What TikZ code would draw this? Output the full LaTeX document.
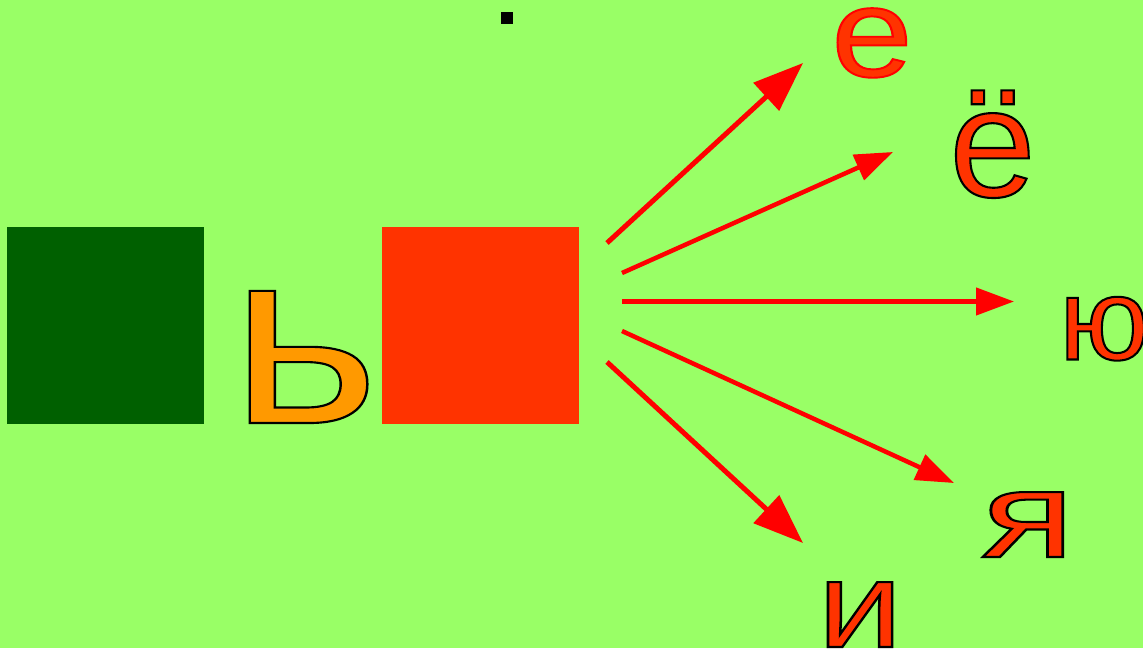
\documentclass[tikz,border=0pt]{standalone}
\usepackage{fontspec}
\setmainfont{Liberation Sans}
\usetikzlibrary{arrows.meta}
\definecolor{bg}{HTML}{99FF66}
\definecolor{dgreen}{HTML}{006000}
\definecolor{ored}{HTML}{FF3300}
\definecolor{orng}{HTML}{FF9900}
\definecolor{arred}{HTML}{FF0000}
% #1 xscale, #2 size, #3 fill colour, #4 stroke RGB, #5 embolden, #6 letter
\newcommand{\olet}[6]{\scalebox{#1}[1]{\fontspec{Liberation Sans}[FakeBold=#5]\fontsize{#2}{#2}\selectfont\color{#3}\special{pdf:code #4 RG}#6}}
\tikzset{
  letter/.style={inner sep=0pt, outer sep=0pt, anchor=base},
  sq/.style={minimum size=197pt, inner sep=0pt, outer sep=0pt, draw=none},
  arrbig/.style={draw=arred, line width=5pt, -{Triangle[length=50pt,width=37pt]}},
  arrmid/.style={draw=arred, line width=4.5pt, -{Triangle[length=38pt,width=27pt]}}
}
\begin{document}
\begin{tikzpicture}[x=1pt,y=-1pt]
\fill[bg] (0,0) rectangle (1143,648);
\useasboundingbox (0,0) rectangle (1143,648);
\clip (0,0) rectangle (1143,648);
\node[sq, fill=dgreen] (g) at (105.5,325.5) {};
\node[sq, fill=ored] (r) at (480.5,325.5) {};
\node[inner sep=0pt, minimum size=12pt, fill=black] (dot) at (507,18) {};
\node[letter] (soft) at (304.5,423) {\olet{1.145}{250}{orng}{0 0 0}{0.85}{ь}};
\node[letter] (e) at (872,76.5) {\olet{1.15}{127}{ored}{1 0 0}{1.5}{е}};
\node[letter] (yo) at (992.5,196.5) {\olet{1}{155}{ored}{0 0 0}{1.35}{ё}};
\node[letter, anchor=base west] (yu) at (1059,359.5) {\olet{1.03}{116.5}{ored}{0 0 0}{1.75}{ю}};
\node[letter] (ya) at (1028,557) {\olet{1.4}{123}{ored}{0 0 0}{1.65}{я}};
\node[letter] (i) at (860,647) {\olet{1.24}{123}{ored}{0 0 0}{1.65}{и}};
\coordinate (s1) at (607,243); \coordinate (t1) at (803,63);
\coordinate (s2) at (622,273); \coordinate (t2) at (893,152);
\coordinate (s3) at (622,301.5); \coordinate (t3) at (1014,301.5);
\coordinate (s4) at (622,331); \coordinate (t4) at (954,483);
\coordinate (s5) at (607,362); \coordinate (t5) at (803,543);
\draw[arrbig] (s1) -- (t1);
\draw[arrmid] (s2) -- (t2);
\draw[arrmid] (s3) -- (t3);
\draw[arrmid] (s4) -- (t4);
\draw[arrbig] (s5) -- (t5);
\end{tikzpicture}
\end{document}
